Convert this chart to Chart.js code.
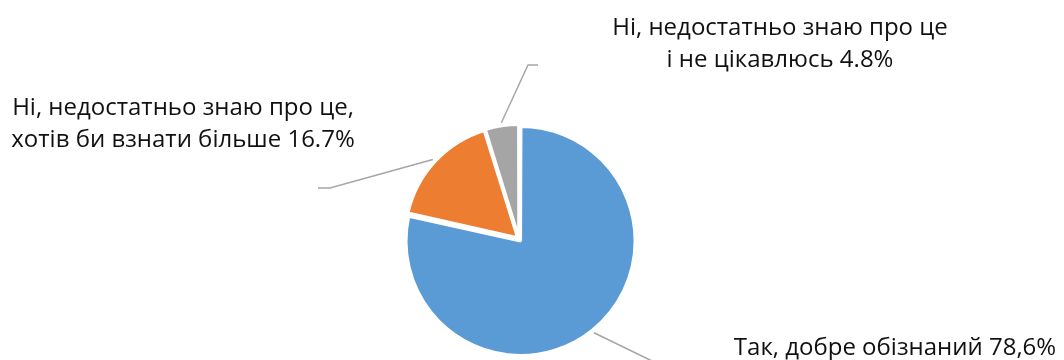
<!DOCTYPE html>
<html>
<head>
<meta charset="utf-8">
<script src="https://cdn.jsdelivr.net/npm/chart.js@4.4.1/dist/chart.umd.min.js"></script>
<style>
  html, body { margin: 0; padding: 0; background: #fff; }
  canvas { display: block; }
</style>
</head>
<body>
<canvas id="pie" width="1064" height="360"></canvas>
<script>
// answers and their shares, %
var labels = [
    ["Так, добре обізнаний 78,6%"],
    ["Ні, недостатньо знаю про це,", "хотів би взнати більше 16.7%"],
    ["Ні, недостатньо знаю про це", "і не цікавлюсь 4.8%"]
];
var shares = [78.6, 16.7, 4.8];
var colors = ["#5B9BD5", "#ED7D31", "#A5A5A5"];

// where each label sits and how its leader line bends
var labelPos = [
    { x: 895, y: 355 },
    { x: 183, y: 115 },
    { x: 780, y: 35 }
];
var leaderBends = [
    [[650, 360], [680, 375]],
    [[330, 188], [318, 188]],
    [[528, 65], [538, 65]]
];

var leaderPlugin = {
    id: 'leaders',
    afterDatasetsDraw: function(chart) {
        var ctx = chart.ctx;
        var arcs = chart.getDatasetMeta(0).data;
        ctx.save();
        ctx.strokeStyle = '#A6A6A6';
        ctx.lineWidth = 1.5;
        arcs.forEach(function(arc, i) {
            var mid = (arc.startAngle + arc.endAngle) / 2;
            var r = arc.outerRadius + 3;
            var off = arc.options.offset / 4;
            var circ = arc.endAngle - arc.startAngle;
            off = off + off * (1 - Math.sin(Math.min(Math.PI, circ)));
            var sx = arc.x + Math.cos(mid) * (r + off);
            var sy = arc.y + Math.sin(mid) * (r + off);
            ctx.beginPath();
            ctx.moveTo(sx, sy);
            leaderBends[i].forEach(function(p) { ctx.lineTo(p[0], p[1]); });
            ctx.stroke();
        });
        ctx.fillStyle = '#111111';
        ctx.font = '24px "Open Sans"';
        ctx.textAlign = 'center';
        ctx.textBaseline = 'alphabetic';
        labels.forEach(function(lines, i) {
            lines.forEach(function(t, j) {
                ctx.fillText(t, labelPos[i].x, labelPos[i].y + j * 32);
            });
        });
        ctx.restore();
    }
};

var pie_ctx = document.getElementById('pie').getContext('2d');
var pie_chart = new Chart(pie_ctx, {
    type: 'pie',
    data: {
        labels: labels.map(function(l) { return l.join(' '); }),
        datasets: [
            {
              data: shares,
              backgroundColor: colors,
              borderColor: '#ffffff',
              borderWidth: 3,
              offset: [10, 8, 6],
              radius: 112
            }
        ]
    },
    options: {
        responsive: false,
        animation: false,
        layout: { padding: { left: 400, right: 426, top: 120, bottom: 2 } },
        plugins: {
            legend: { display: false },
            tooltip: { enabled: false }
        }
    },
    plugins: [leaderPlugin]
});
</script>
</body>
</html>
